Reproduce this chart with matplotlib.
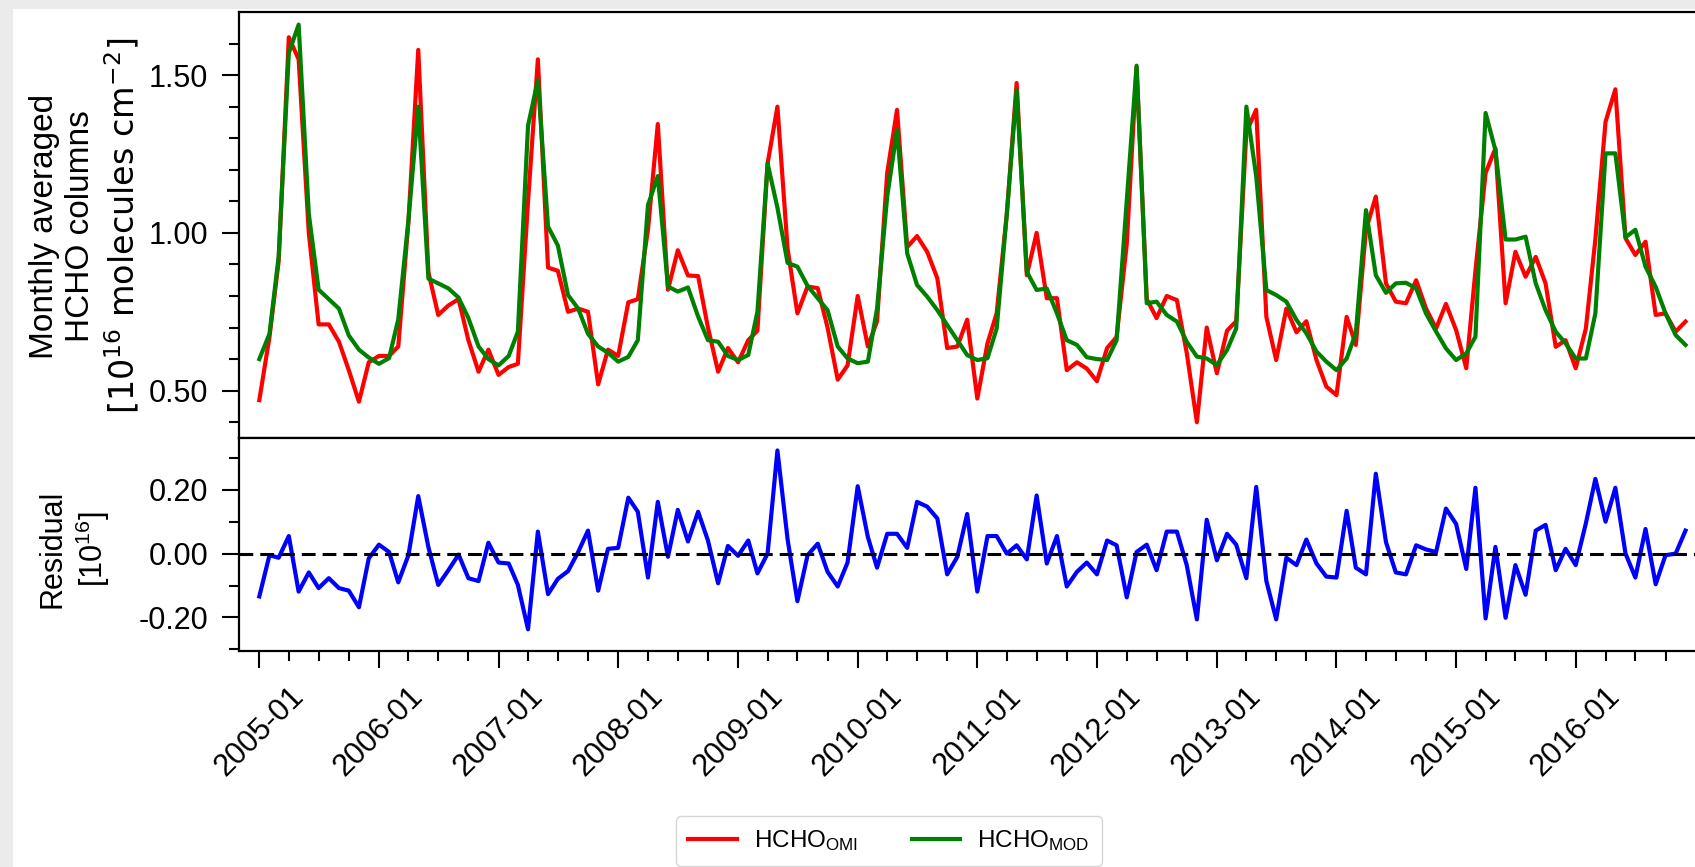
import numpy as np
import pandas as pd
import matplotlib
matplotlib.use("Agg")
import matplotlib.pyplot as plt
import matplotlib.dates as mdates
from matplotlib.ticker import FixedLocator, FormatStrFormatter
from matplotlib.patches import Rectangle

plt.rcParams['font.family'] = ['Liberation Sans', 'DejaVu Sans']
plt.rcParams['mathtext.fontset'] = 'dejavusans'
plt.rcParams['mathtext.default'] = 'regular'
plt.rcParams['axes.unicode_minus'] = False

# ---- data: monthly means 2005-01 .. 2016-12
months = pd.date_range('2005-01-01', periods=144, freq='MS')

hcho_omi = [
    0.47, 0.67, 0.91, 1.62, 1.55, 1.00, 0.71, 0.71, 0.655, 0.565, 0.465, 0.59,
    0.61, 0.61, 0.64, 1.035, 1.58, 0.875, 0.74, 0.77, 0.79, 0.66, 0.56, 0.63,
    0.55, 0.575, 0.585, 1.10, 1.55, 0.89, 0.88, 0.75, 0.76, 0.75, 0.52, 0.63,
    0.61, 0.78, 0.79, 1.01, 1.345, 0.82, 0.945, 0.865, 0.863, 0.70, 0.56, 0.635,
    0.59, 0.66, 0.69, 1.22, 1.40, 0.95, 0.745, 0.83, 0.825, 0.70, 0.535, 0.58,
    0.80, 0.64, 0.72, 1.19, 1.39, 0.955, 0.99, 0.94, 0.856, 0.635, 0.64, 0.725,
    0.475, 0.65, 0.745, 1.06, 1.475, 0.866, 1.00, 0.793, 0.793, 0.565, 0.59, 0.57,
    0.53, 0.635, 0.67, 0.965, 1.525, 0.79, 0.73, 0.80, 0.787, 0.62, 0.40, 0.70,
    0.555, 0.69, 0.72, 1.32, 1.39, 0.734, 0.597, 0.76, 0.685, 0.72, 0.597, 0.513,
    0.486, 0.734, 0.645, 1.01, 1.115, 0.84, 0.782, 0.777, 0.85, 0.761, 0.697, 0.775,
    0.692, 0.571, 0.88, 1.19, 1.268, 0.777, 0.94, 0.861, 0.924, 0.84, 0.639, 0.66,
    0.571, 0.697, 0.98, 1.352, 1.455, 0.983, 0.93, 0.972, 0.74, 0.745, 0.687, 0.719,
]

hcho_mod = [
    0.60, 0.68, 0.925, 1.57, 1.66, 1.06, 0.82, 0.79, 0.76, 0.675, 0.63, 0.605,
    0.585, 0.603, 0.726, 1.04, 1.40, 0.855, 0.84, 0.824, 0.795, 0.73, 0.64, 0.60,
    0.58, 0.61, 0.687, 1.34, 1.484, 1.02, 0.96, 0.803, 0.76, 0.68, 0.64, 0.62,
    0.592, 0.607, 0.66, 1.088, 1.18, 0.83, 0.814, 0.827, 0.735, 0.66, 0.655, 0.61,
    0.597, 0.613, 0.75, 1.22, 1.08, 0.905, 0.893, 0.832, 0.793, 0.755, 0.64, 0.602,
    0.587, 0.592, 0.76, 1.115, 1.326, 0.935, 0.835, 0.798, 0.755, 0.708, 0.66, 0.613,
    0.597, 0.603, 0.697, 1.06, 1.452, 0.877, 0.819, 0.824, 0.745, 0.66, 0.645, 0.606,
    0.60, 0.597, 0.66, 1.104, 1.53, 0.777, 0.782, 0.74, 0.719, 0.655, 0.608, 0.602,
    0.581, 0.629, 0.697, 1.40, 1.18, 0.819, 0.803, 0.782, 0.724, 0.682, 0.624, 0.592,
    0.565, 0.602, 0.682, 1.072, 0.866, 0.81, 0.84, 0.842, 0.824, 0.745, 0.687, 0.634,
    0.597, 0.618, 0.671, 1.38, 1.262, 0.979, 0.979, 0.988, 0.84, 0.755, 0.687, 0.65,
    0.602, 0.602, 0.745, 1.252, 1.252, 0.986, 1.01, 0.893, 0.829, 0.745, 0.676, 0.645,
]

residual = [
    -0.134, -0.005, -0.013, 0.055, -0.119, -0.059, -0.108, -0.077, -0.108, -0.116, -0.168, -0.015,
    0.028, 0.005, -0.09, -0.005, 0.18, 0.02, -0.098, -0.052, -0.003, -0.077, -0.086, 0.034,
    -0.028, -0.031, -0.098, -0.237, 0.069, -0.127, -0.079, -0.055, 0.005, 0.072, -0.116, 0.015,
    0.018, 0.175, 0.131, -0.075, 0.162, -0.01, 0.137, 0.038, 0.131, 0.041, -0.093, 0.024,
    -0.007, 0.041, -0.062, 0.0, 0.323, 0.045, -0.149, -0.005, 0.031, -0.057, -0.103, -0.028,
    0.211, 0.052, -0.044, 0.062, 0.062, 0.018, 0.162, 0.147, 0.11, -0.065, -0.01, 0.124,
    -0.119, 0.055, 0.055, 0.0, 0.026, -0.018, 0.182, -0.031, 0.055, -0.103, -0.057, -0.028,
    -0.065, 0.041, 0.026, -0.137, 0.005, 0.028, -0.052, 0.069, 0.069, -0.036, -0.206, 0.106,
    -0.021, 0.062, 0.028, -0.077, 0.209, -0.086, -0.206, -0.013, -0.036, 0.044, -0.031, -0.072,
    -0.075, 0.134, -0.044, -0.065, 0.25, 0.036, -0.059, -0.065, 0.026, 0.013, 0.005, 0.141,
    0.093, -0.048, 0.206, -0.203, 0.021, -0.201, -0.036, -0.129, 0.072, 0.09, -0.052, 0.015,
    -0.036, 0.095, 0.234, 0.1, 0.206, 0.0, -0.075, 0.077, -0.096, -0.005, 0.0, 0.072,
]

# ---- figure
W, H = 1695, 867
fig = plt.figure(figsize=(W / 100, H / 100), dpi=100, facecolor='#ebebeb')
fig.add_artist(Rectangle((13 / W, 0), 1, 1 - 9 / H, transform=fig.transFigure,
                         facecolor='white', edgecolor='none', zorder=-5))

L = 239 / W
y_top, y_mid, y_bot = 1 - 12 / H, 1 - 438 / H, 1 - 651 / H
ax1 = fig.add_axes([L, y_mid, 1 - L, y_top - y_mid])
ax2 = fig.add_axes([L, y_bot, 1 - L, y_mid - y_bot], sharex=ax1)

l1, = ax1.plot(months, hcho_omi, color='red', lw=3, label='HCHO$_{OMI}$')
l2, = ax1.plot(months, hcho_mod, color='green', lw=3, label='HCHO$_{MOD}$')
ax2.plot(months, residual, color='blue', lw=3)
ax2.axhline(0, color='black', lw=2.2, ls=(0, (4.5, 2.3)))

# x range: 2005-01 sits ~20 px right of the left spine; stop short of 2017-01
x0 = mdates.date2num(pd.Timestamp('2005-01-01')) - 62
x1 = mdates.date2num(pd.Timestamp('2016-12-30'))
ax1.set_xlim(x0, x1)

ax1.set_ylim(0.35, 1.70)
ax1.yaxis.set_major_locator(FixedLocator([0.5, 1.0, 1.5]))
ax1.yaxis.set_minor_locator(FixedLocator(np.round(np.arange(0.4, 1.65, 0.1), 2)))
ax1.yaxis.set_major_formatter(FormatStrFormatter('%.2f'))

ax2.set_ylim(-0.305, 0.362)
ax2.yaxis.set_major_locator(FixedLocator([-0.2, 0.0, 0.2]))
ax2.yaxis.set_minor_locator(FixedLocator([-0.3, -0.1, 0.1, 0.3]))
ax2.yaxis.set_major_formatter(FormatStrFormatter('%.2f'))

ax2.xaxis.set_major_locator(mdates.YearLocator())
ax2.xaxis.set_minor_locator(mdates.MonthLocator(bymonth=[1, 4, 7, 10]))
ax2.xaxis.set_major_formatter(mdates.DateFormatter('%Y-%m'))

for ax in (ax1, ax2):
    ax.tick_params(which='major', length=12, width=1.5, labelsize=22, pad=10)
    ax.tick_params(which='minor', length=7, width=1.5)
    ax.spines['right'].set_visible(False)
    for s in ('left', 'top', 'bottom'):
        ax.spines[s].set_linewidth(1.6)
ax1.tick_params(axis='x', which='both', bottom=False, labelbottom=False)
plt.setp(ax2.get_xticklabels(), rotation=45, ha='center')

fig.text(85 / W, 1 - 226 / H,
         'Monthly averaged\nHCHO columns\n'
         r'$\mathrm{[10^{16}\ molecules\ cm^{-2}]}$',
         rotation=90, ha='center', va='center', multialignment='center', fontsize=24)
fig.text(75 / W, 1 - 549 / H, 'Residual\n[10$^{16}$]',
         rotation=90, ha='center', va='center', multialignment='center', fontsize=22)

fig.legend([l1, l2], ['HCHO$_{OMI}$', 'HCHO$_{MOD}$'], loc='center',
           bbox_to_anchor=(889 / W, 1 - 841 / H), ncol=2, fontsize=17.5,
           handlelength=2.0, handletextpad=0.7, columnspacing=2.2,
           borderpad=0.5, frameon=True)

fig.savefig('out.png', dpi=100, facecolor=fig.get_facecolor())
